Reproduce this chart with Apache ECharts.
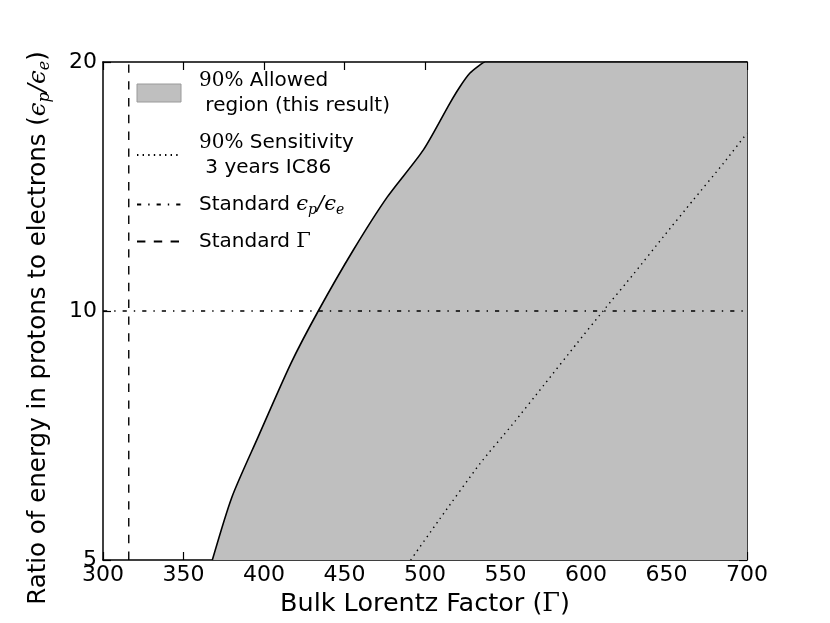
<!DOCTYPE html>
<html>
<head>
<meta charset="utf-8">
<script src="https://cdn.jsdelivr.net/npm/echarts@6/dist/echarts.min.js"></script>
<style>
  html, body { margin: 0; padding: 0; background: #fff; }
  #chart { width: 830px; height: 623px; }
</style>
</head>
<body>
<div id="chart"></div>
<script>
// 90% allowed region, boundary (solid line); last point closes the fill at the top right
var allowedGamma = [367.9, 380.1, 396.3, 416.8, 433.7, 455.5, 476.4, 499.0, 515.5, 521.7, 527.8, 534.2, 537.3, 700];
var allowedRatio = [5, 5.96, 7.04, 8.65, 10, 11.85, 13.72, 15.66, 17.84, 18.67, 19.38, 19.84, 20, 20];
// 90% sensitivity, 3 years IC86 (dotted)
var sensGamma = [491.1, 509.3, 534.2, 554.0, 573.9, 594.4, 610.6, 629.8, 648.1, 666.6, 685.3, 700];
var sensRatio = [5, 5.61, 6.54, 7.28, 8.14, 9.14, 10, 11.1, 12.3, 13.62, 15.08, 16.41];
// standard values
var stdRatio = 10;
var stdGamma = 316;
// axes
var xMin = 300, xMax = 700, xStep = 50;
var yMin = 5, yMax = 20;

var seriesNames = ['allowed', 'sens', 'stdRatio', 'stdGamma'];
var legendLabels = {
  allowed: '{pad| }{m|90%} Allowed\n{pad| } region (this result)',
  sens: '{pad| }{m|90%} Sensitivity\n{pad| } 3 years IC86',
  stdRatio: '{pad| }Standard {mi|ϵ}{sub|p}{mi|/ϵ}{sub|e}',
  stdGamma: '{pad| }Standard {mg|Γ}'
};

function pairs (xs, ys) {
  return xs.map(function (x, i) { return [x, ys[i]] })
}

var font = 'DejaVu Sans'
var serif = 'DejaVu Serif'
var noSymbol = { color: 'rgba(0,0,0,0)', borderWidth: 0 }

var chart = echarts.init(document.getElementById('chart'))
chart.setOption({
  animation: false,
  backgroundColor: '#fff',
  grid: { left: 103, right: 83, top: 62, bottom: 63 },
  legend: {
    orient: 'vertical',
    left: 136,
    top: 68,
    padding: 0,
    itemGap: 12,
    itemWidth: 44,
    itemHeight: 18,
    selectedMode: false,
    formatter: function (name) { return legendLabels[name] },
    textStyle: {
      fontFamily: font, fontSize: 20, lineHeight: 25, color: '#000',
      rich: {
        pad: { width: 13 },
        m: { fontFamily: serif, fontSize: 20 },
        mi: { fontFamily: serif, fontStyle: 'italic', fontSize: 21 },
        mg: { fontFamily: serif, fontSize: 21 },
        sub: { fontFamily: serif, fontStyle: 'italic', fontSize: 14, verticalAlign: 'bottom' }
      }
    },
    data: [
      { name: 'allowed', icon: 'rect', itemStyle: { color: '#bfbfbf', borderColor: '#9a9a9a', borderWidth: 1 } },
      { name: 'sens', itemStyle: noSymbol },
      { name: 'stdRatio', itemStyle: noSymbol },
      { name: 'stdGamma', itemStyle: noSymbol }
    ]
  },
  xAxis: [{
    type: 'value',
    position: 'bottom',
    min: xMin,
    max: xMax,
    interval: xStep,
    name: 'Bulk Lorentz Factor ({g|Γ})',
    nameLocation: 'middle',
    nameGap: 25,
    nameTextStyle: {
      fontFamily: font, fontSize: 25.5, color: '#000',
      rich: { g: { fontFamily: serif, fontSize: 25.5 } }
    },
    axisLine: { onZero: false, lineStyle: { color: '#000', width: 1.5 } },
    axisTick: { inside: true, length: 8, lineStyle: { color: '#000', width: 1.2 } },
    axisLabel: { color: '#000', fontFamily: font, fontSize: 22, margin: 4 },
    splitLine: { show: false }
  }, {
    type: 'value',
    position: 'top',
    min: xMin,
    max: xMax,
    interval: xStep,
    axisLine: { onZero: false, lineStyle: { color: '#000', width: 1.5 } },
    axisTick: { inside: true, length: 8, lineStyle: { color: '#000', width: 1.2 } },
    axisLabel: { show: false },
    splitLine: { show: false }
  }],
  yAxis: [{
    type: 'log',
    logBase: 10,
    position: 'left',
    min: yMin,
    max: yMax,
    name: 'Ratio of energy in protons to electrons ({mi|ϵ}{sub|p}{mi|/ϵ}{sub|e})',
    nameLocation: 'middle',
    nameGap: 50,
    nameTextStyle: {
      fontFamily: font, fontSize: 24.5, color: '#000', lineHeight: 28,
      padding: [0, 34, 0, 0],
      rich: {
        mi: { fontFamily: serif, fontStyle: 'italic', fontSize: 24.5 },
        sub: { fontFamily: serif, fontStyle: 'italic', fontSize: 16, verticalAlign: 'bottom' }
      }
    },
    axisLine: { onZero: false, lineStyle: { color: '#000', width: 1.5 } },
    axisTick: { inside: true, length: 8, lineStyle: { color: '#000', width: 1.2 } },
    axisLabel: { color: '#000', fontFamily: font, fontSize: 22, margin: 6 },
    minorTick: { show: false },
    splitLine: { show: false }
  }, {
    type: 'log',
    logBase: 10,
    position: 'right',
    min: yMin,
    max: yMax,
    axisLine: { onZero: false, lineStyle: { color: '#000', width: 1.5 } },
    axisTick: { inside: true, length: 8, lineStyle: { color: '#000', width: 1.2 } },
    axisLabel: { show: false },
    splitLine: { show: false }
  }],
  series: [{
    name: seriesNames[0],
    type: 'line',
    data: pairs(allowedGamma, allowedRatio),
    symbol: 'none',
    smooth: 0.25,
    lineStyle: { color: '#000', width: 1.6 },
    itemStyle: { color: '#bfbfbf' },
    areaStyle: { color: '#bfbfbf', opacity: 1, origin: 'start' },
    z: 2
  }, {
    name: seriesNames[1],
    type: 'line',
    data: pairs(sensGamma, sensRatio),
    symbol: 'none',
    smooth: 0.2,
    lineStyle: { color: '#000', width: 1.4, type: [1.4, 4.2] },
    itemStyle: { color: '#000' },
    z: 3
  }, {
    name: seriesNames[2],
    type: 'line',
    data: [[xMin, stdRatio], [xMax, stdRatio]],
    symbol: 'none',
    lineStyle: { color: '#000', width: 1.4, type: [4.2, 7, 1.4, 7] },
    itemStyle: { color: '#000' },
    z: 3
  }, {
    name: seriesNames[3],
    type: 'line',
    data: [[stdGamma, yMin], [stdGamma, yMax]],
    symbol: 'none',
    lineStyle: { color: '#000', width: 1.4, type: [8.4, 8.4] },
    itemStyle: { color: '#000' },
    z: 3
  }]
})
</script>
</body>
</html>
